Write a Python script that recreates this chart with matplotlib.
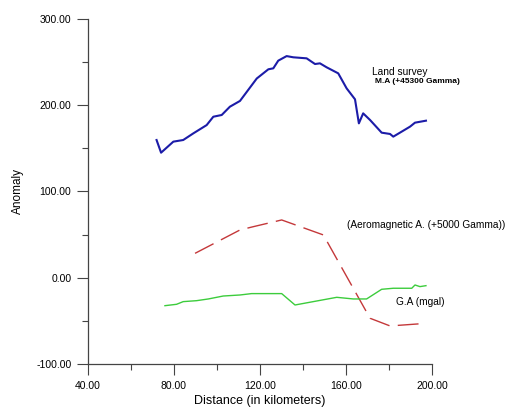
import matplotlib
matplotlib.use("Agg")
import matplotlib.pyplot as plt
from matplotlib.ticker import MultipleLocator, FormatStrFormatter

plt.rcParams['font.family'] = ['Liberation Sans', 'DejaVu Sans']

# Land survey magnetic anomaly (+45300 Gamma)
land_x = [71.9, 74.0, 79.7, 84.3, 89.0, 95.2, 98.3, 102.2, 106.0, 110.7, 118.5,
          123.9, 126.2, 128.5, 132.4, 135.5, 141.7, 145.6, 147.9, 151.0, 156.4,
          160.3, 164.2, 166.0, 168.0, 171.2, 176.6, 180.5, 182.0, 185.1, 189.8,
          192.1, 197.2]
land_y = [159.7, 145.0, 157.8, 159.7, 167.4, 177.0, 186.7, 188.7, 198.3, 205.0,
          231.0, 241.7, 242.8, 251.7, 257.0, 255.6, 254.4, 247.8, 248.6, 244.0,
          237.0, 219.6, 206.9, 179.0, 190.6, 182.9, 168.2, 166.7, 163.6, 168.2,
          175.2, 179.8, 182.1]

# Aeromagnetic anomaly (+5000 Gamma)
aero_x = [89.8, 110.7, 116.9, 130.1, 149.5, 171.2, 180.5, 197.2]
aero_y = [28.3, 55.4, 59.2, 67.0, 49.6, -47.0, -55.9, -52.9]

# Gravity anomaly (mgal)
grav_x = [75.8, 81.2, 84.3, 90.5, 96.0, 102.9, 110.7, 116.1, 130.1, 136.3,
          144.8, 155.7, 163.4, 169.6, 176.6, 182.0, 190.6, 192.1, 194.4, 197.2]
grav_y = [-32.4, -30.8, -27.7, -26.6, -24.6, -21.2, -20.0, -18.4, -18.4, -31.6,
          -27.7, -22.7, -24.6, -24.6, -13.4, -12.2, -12.2, -8.4, -10.3, -9.2]

fig = plt.figure(figsize=(5.10, 4.07), dpi=100)
ax = fig.add_axes([0.1725, 0.1057, 0.6745, 0.8476])

ax.plot(land_x, land_y, color='#1c1ca8', lw=1.5)
ax.plot(aero_x, aero_y, color='#c4383a', lw=1.0, dashes=(15, 6))
ax.plot(grav_x, grav_y, color='#3ccc3c', lw=1.0)

ax.text(171.9, 238.9, 'Land survey', fontsize=7.3, va='center')
ax.text(173.5, 227.3, 'M.A (+45300 Gamma)', fontsize=6, fontweight='bold',
        va='center')
ax.text(160.6, 61.2, '(Aeromagnetic A. (+5000 Gamma))', fontsize=7.3,
        va='center')
ax.text(183.3, -27.7, 'G.A (mgal)', fontsize=7.3, va='center')

ax.set_xlim(40, 200)
ax.set_ylim(-100, 300)
ax.xaxis.set_major_locator(MultipleLocator(40))
ax.xaxis.set_minor_locator(MultipleLocator(20))
ax.yaxis.set_major_locator(MultipleLocator(100))
ax.yaxis.set_minor_locator(MultipleLocator(50))
ax.xaxis.set_major_formatter(FormatStrFormatter('%.2f'))
ax.yaxis.set_major_formatter(FormatStrFormatter('%.2f'))

for s in ['top', 'right']:
    ax.spines[s].set_visible(False)
for s in ['left', 'bottom']:
    ax.spines[s].set_color('#444444')
    ax.spines[s].set_linewidth(0.9)
ax.tick_params(which='major', length=8, width=0.8, color='#444444',
               labelsize=7.5, pad=4)
ax.tick_params(which='minor', length=4, width=0.8, color='#444444')

ax.set_xlabel('Distance (in kilometers)', fontsize=9, labelpad=3)
ax.set_ylabel('Anomaly', fontsize=8.5, labelpad=9)

fig.savefig('out.png', dpi=100)
